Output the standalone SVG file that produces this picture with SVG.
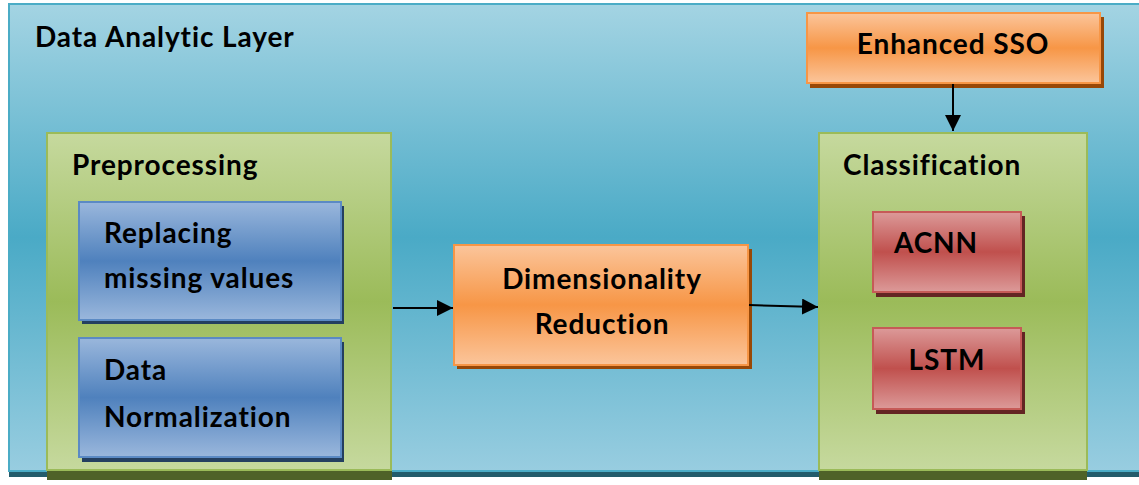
<svg xmlns="http://www.w3.org/2000/svg" width="1139" height="485" viewBox="0 0 1139 485">
<defs>
<linearGradient id="gBg" x1="0" y1="0" x2="0" y2="1">
<stop offset="0" stop-color="#a4d4e3"/><stop offset="0.5" stop-color="#4aaac6"/><stop offset="1" stop-color="#98cde0"/>
</linearGradient>
<linearGradient id="gGreen" x1="0" y1="0" x2="0" y2="1">
<stop offset="0" stop-color="#c6d99e"/><stop offset="0.5" stop-color="#9bbb59"/><stop offset="1" stop-color="#c6d99e"/>
</linearGradient>
<linearGradient id="gBlue" x1="0" y1="0" x2="0" y2="1">
<stop offset="0" stop-color="#9ab7dc"/><stop offset="0.5" stop-color="#4f81bd"/><stop offset="1" stop-color="#9ab7dc"/>
</linearGradient>
<linearGradient id="gOrange" x1="0" y1="0" x2="0" y2="1">
<stop offset="0" stop-color="#fbc59b"/><stop offset="0.5" stop-color="#f79646"/><stop offset="1" stop-color="#fbc59b"/>
</linearGradient>
<linearGradient id="gRed" x1="0" y1="0" x2="0" y2="1">
<stop offset="0" stop-color="#dc9a99"/><stop offset="0.5" stop-color="#c0504d"/><stop offset="1" stop-color="#dc9a99"/>
</linearGradient>
<marker id="arr" viewBox="0 0 10 10" refX="10" refY="5" markerWidth="16" markerHeight="16" markerUnits="userSpaceOnUse" orient="auto">
<path d="M0,0 L10,5 L0,10 Z" fill="#000"/>
</marker>
<style>
text{font-family:Lato,"Liberation Sans",sans-serif;font-weight:bold;fill:#000;font-variant-ligatures:none;}
.t{font-size:28px;letter-spacing:0.9px;}
.green{fill:url(#gGreen);stroke:#9bbb59;stroke-width:2;}
.blue{fill:url(#gBlue);stroke:#5b8ac4;stroke-width:2;}
.orange{fill:url(#gOrange);stroke:#f79646;stroke-width:2;}
.red{fill:url(#gRed);stroke:#c65a57;stroke-width:2;}
.conn{stroke:#000;stroke-width:2;fill:none;marker-end:url(#arr);}
</style>
</defs>
<g id="layer">
<rect x="9" y="470" width="1135" height="7" fill="#235c6b"/>
<rect x="9" y="4" width="1135" height="467" fill="url(#gBg)" stroke="#4bacc6" stroke-width="2"/>
<text class="t" x="35" y="47">Data Analytic Layer</text>
</g>
<g id="preprocessing">
<rect x="47" y="140" width="345" height="340" fill="#4f6228"/>
<rect x="47" y="133" width="344" height="337" class="green"/>
<text class="t" x="72" y="175">Preprocessing</text>
</g>
<g id="replacing">
<rect x="82" y="206" width="262" height="118" fill="#243f60"/>
<rect x="79" y="202" width="262" height="118" class="blue"/>
<text class="t" x="104" y="243">Replacing</text>
<text class="t" x="104" y="288">missing values</text>
</g>
<g id="normalization">
<rect x="82" y="342" width="262" height="120" fill="#243f60"/>
<rect x="79" y="338" width="262" height="119" class="blue"/>
<text class="t" x="104" y="380">Data</text>
<text class="t" x="104" y="427">Normalization</text>
</g>
<g id="dimred">
<rect x="457" y="249" width="295" height="120" fill="#984807"/>
<rect x="454" y="245" width="294" height="120" class="orange"/>
<text class="t" x="602" y="289" text-anchor="middle">Dimensionality</text>
<text class="t" x="602" y="334" text-anchor="middle">Reduction</text>
</g>
<g id="sso">
<rect x="810" y="17" width="294" height="71" fill="#984807"/>
<rect x="807" y="13" width="293" height="70" class="orange"/>
<text class="t" x="953" y="54" text-anchor="middle">Enhanced SSO</text>
</g>
<g id="classification">
<rect x="819" y="140" width="268" height="340" fill="#4f6228"/>
<rect x="819" y="133" width="268" height="337" class="green"/>
<text class="t" x="843" y="175">Classification</text>
</g>
<g id="acnn">
<rect x="876" y="216" width="149" height="81" fill="#632523"/>
<rect x="873" y="212" width="148" height="80" class="red"/>
<text class="t" x="936" y="253" text-anchor="middle">ACNN</text>
</g>
<g id="lstm">
<rect x="876" y="332" width="149" height="82" fill="#632523"/>
<rect x="873" y="328" width="148" height="81" class="red"/>
<text class="t" x="947" y="370" text-anchor="middle">LSTM</text>
</g>
<g id="connectors">
<line class="conn" x1="393" y1="308" x2="453" y2="308"/>
<line class="conn" x1="749" y1="305" x2="818" y2="307"/>
<line class="conn" x1="953" y1="84" x2="953" y2="131"/>
</g>
</svg>
